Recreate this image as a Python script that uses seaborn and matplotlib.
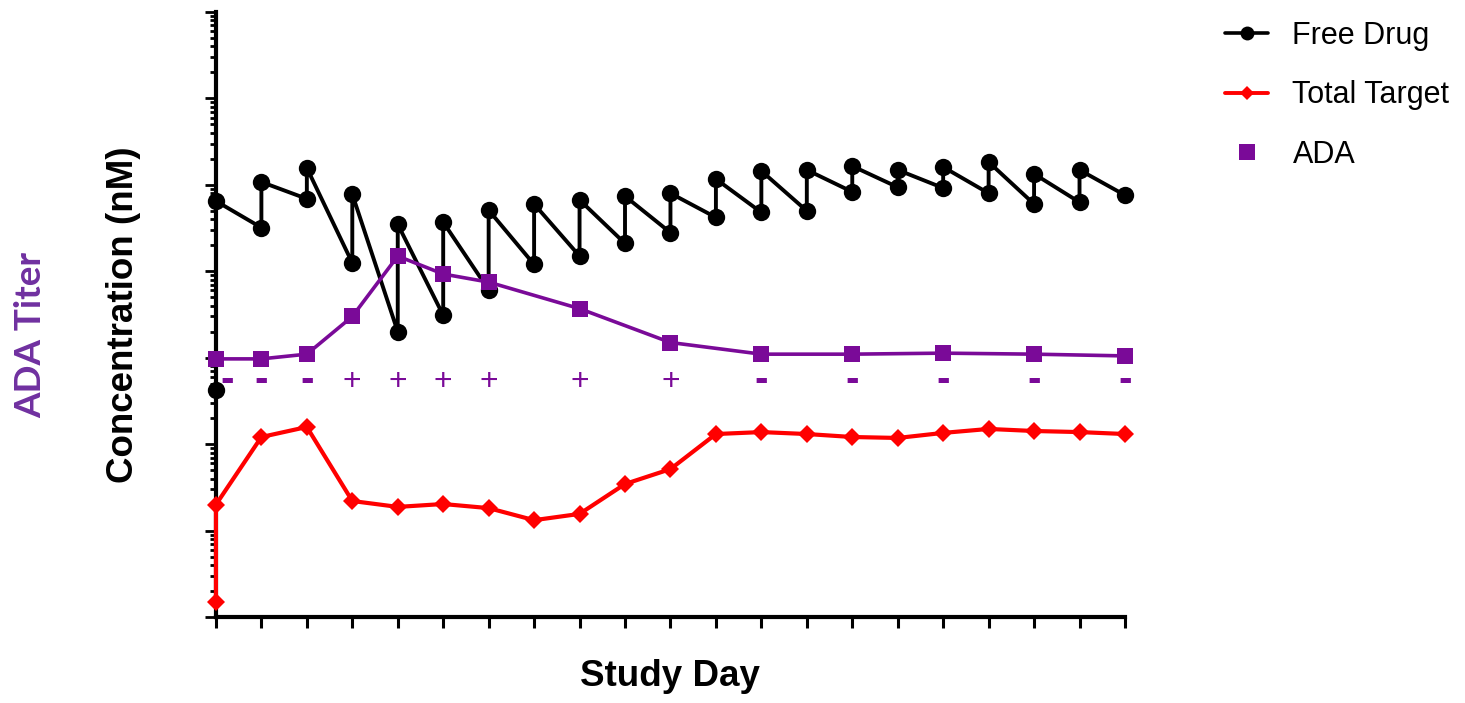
import matplotlib
matplotlib.use("Agg")
import matplotlib.pyplot as plt
from matplotlib.lines import Line2D
from matplotlib.ticker import LogLocator, NullFormatter, MultipleLocator
import seaborn as sns
import pandas as pd

# Free drug: pre-dose / trough and post-dose peak at each weekly dosing day
free_drug_day = [0, 0, 7, 7, 14, 14, 21, 21, 28, 28, 35, 35, 42, 42, 49, 49,
                 56, 56, 63, 63, 70, 70, 77, 77, 84, 84, 91, 91, 98, 98,
                 105, 105, 112, 112, 119, 119, 126, 126, 133, 133, 140]
free_drug_nM = [0.42, 65, 32, 108, 69, 157, 12.5, 78, 2.0, 35, 3.1, 37, 6.1, 51,
                12, 60, 15, 67, 21, 74, 28, 80, 42, 117, 48, 145, 50, 149,
                83, 165, 94, 149, 92, 161, 80, 184, 60, 134, 63, 149, 76]

# Total target
target_day = [0, 0, 7, 14, 21, 28, 35, 42, 49, 56, 63, 70, 77, 84, 91, 98,
              105, 112, 119, 126, 133, 140]
target_nM = [0.0015, 0.020, 0.121, 0.158, 0.022, 0.0188, 0.0203, 0.0182,
             0.0132, 0.0156, 0.0346, 0.0515, 0.131, 0.138, 0.131, 0.121,
             0.118, 0.135, 0.150, 0.142, 0.138, 0.131]

# Anti-drug antibody titer and result
ada_day = [0, 7, 14, 21, 28, 35, 42, 56, 70, 84, 98, 112, 126, 140]
ada_titer = [0.97, 0.97, 1.10, 3.0, 15, 9.3, 7.5, 3.7, 1.5, 1.1, 1.1, 1.13, 1.1, 1.05]
ada_status = ["-", "-", "-", "+", "+", "+", "+", "+", "+", "-", "-", "-", "-", "-"]

legend_labels = ["Free Drug", "Total Target", "ADA"]

BLACK = "#000000"
RED = "#ff0000"
PURPLE = "#7a0a98"
TITER_PURPLE = "#7030a0"

sns.set_style("white")
plt.rcParams["font.family"] = ["Liberation Sans", "DejaVu Sans"]
plt.rcParams["text.color"] = BLACK
plt.rcParams["axes.labelcolor"] = BLACK

fig = plt.figure(figsize=(14.65, 7.03), dpi=100)
ax = fig.add_axes([0.1474, 0.1223, 0.6205, 0.8606])

drug_df = pd.DataFrame({"day": free_drug_day, "conc": free_drug_nM})
target_df = pd.DataFrame({"day": target_day, "conc": target_nM})
ada_df = pd.DataFrame({"day": ada_day, "titer": ada_titer})

sns.lineplot(data=target_df, x="day", y="conc", ax=ax, estimator=None, sort=False,
             color=RED, linewidth=3.0, marker="D", markersize=9.5,
             markeredgewidth=0, clip_on=False, zorder=3)
sns.lineplot(data=drug_df, x="day", y="conc", ax=ax, estimator=None, sort=False,
             color=BLACK, linewidth=2.8, marker="o", markersize=12.5,
             markeredgewidth=0, clip_on=False, zorder=4)
sns.lineplot(data=ada_df, x="day", y="titer", ax=ax, estimator=None, sort=False,
             color=PURPLE, linewidth=2.6, marker="s", markersize=12,
             markeredgewidth=0, clip_on=False, zorder=5)

# ADA result (+/-) printed under each sampling day
status_level = 0.53
for d, s in zip(ada_day, ada_status):
    if s == "+":
        ax.text(d, status_level, "+", color=PURPLE, fontsize=23, ha="center",
                va="center", zorder=6)
    else:
        ax.text(d + (1.7 if d == 0 else 0), status_level * 1.04, "-", color=PURPLE,
                fontsize=29, fontweight="bold", ha="center", va="center", zorder=6)

ax.set_yscale("log")
ax.set_ylim(1e-3, 1e4)
ax.set_xlim(0, 140)
ax.xaxis.set_major_locator(MultipleLocator(7))
ax.yaxis.set_major_locator(LogLocator(base=10, numticks=20))
ax.yaxis.set_minor_locator(LogLocator(base=10, subs=range(2, 10), numticks=200))
ax.yaxis.set_major_formatter(NullFormatter())
ax.yaxis.set_minor_formatter(NullFormatter())
ax.xaxis.set_major_formatter(NullFormatter())

for side in ("top", "right"):
    ax.spines[side].set_visible(False)
for side in ("left", "bottom"):
    ax.spines[side].set_linewidth(3)
    ax.spines[side].set_color(BLACK)

ax.tick_params(axis="y", which="major", direction="out", length=8, width=2, color=BLACK, left=True)
ax.tick_params(axis="y", which="minor", direction="out", length=4.5, width=2, color=BLACK, left=True)
ax.tick_params(axis="x", which="major", direction="out", length=8, width=2.2, color=BLACK, bottom=True)

ax.set_xlabel("Study Day", fontsize=26.5, fontweight="bold", va="center")
ax.xaxis.set_label_coords(0.5, -0.099)
ax.set_ylabel("Concentration (nM)", fontsize=26.5, fontweight="bold", va="center")
ax.yaxis.set_label_coords(-0.102, 0.5)

fig.text(0.0208, 0.5235, "ADA Titer", rotation=90, ha="center", va="center",
         fontsize=26.5, fontweight="bold", color=TITER_PURPLE, family=["Lato", "DejaVu Sans"])

handles = [
    Line2D([], [], color=BLACK, linewidth=2.6, marker="o", markersize=10, markeredgewidth=0),
    Line2D([], [], color=RED, linewidth=2.8, marker="D", markersize=7, markeredgewidth=0),
    Line2D([], [], color=PURPLE, linestyle="none", marker="s", markersize=11, markeredgewidth=0),
]
fig.legend(handles, legend_labels, loc="upper left", bbox_to_anchor=(0.828, 0.988),
           frameon=False, fontsize=22, handlelength=1.4, handletextpad=0.8,
           labelspacing=0.97, borderaxespad=0)

fig.savefig("out.png", dpi=100)
